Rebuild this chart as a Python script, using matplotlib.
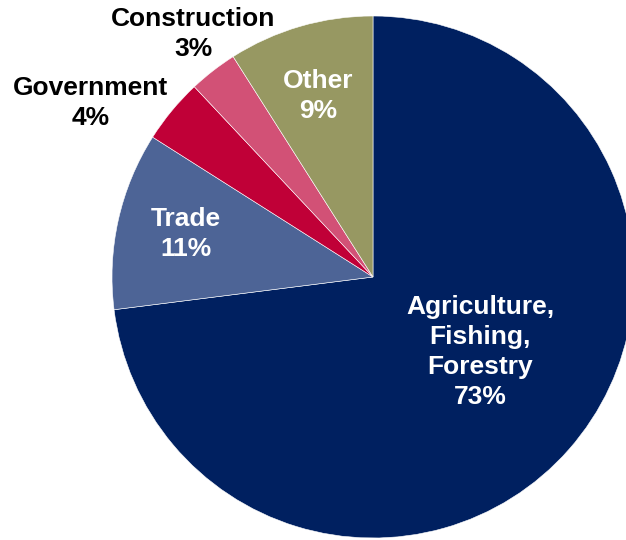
import matplotlib.pyplot as plt

# sectors and shares (%)
sectors = ['Agriculture,\nFishing,\nForestry', 'Trade', 'Government', 'Construction', 'Other']
shares = [73, 11, 4, 3, 9]
colors = ['#002060', '#4D6496', '#C00037', '#D25176', '#979862']
text_colors = ['white', 'white', 'black', 'black', 'white']

# label centres in pixels (x from left, y from top)
label_px = [(480, 352), (186, 234), (91, 103), (193, 34), (318, 96)]

W, H = 626, 540
fig = plt.figure(figsize=(W / 100, H / 100), dpi=100)
ax = fig.add_axes([0, 0, 1, 1])

ax.pie(shares, colors=colors, startangle=90, counterclock=False,
       radius=261, center=(373, H - 277),
       wedgeprops=dict(edgecolor='white', linewidth=0.4))
ax.set_aspect('auto')
ax.set_xlim(0, W)
ax.set_ylim(0, H)
ax.axis('off')

for name, pct, (px, py), tc in zip(sectors, shares, label_px, text_colors):
    ax.text(px, H - py, f'{name}\n{pct}%', ha='center', va='center',
            color=tc, fontsize=19, fontweight='bold',
            family='Liberation Sans', linespacing=1.3)

fig.savefig('out.png', dpi=100, facecolor='white')
